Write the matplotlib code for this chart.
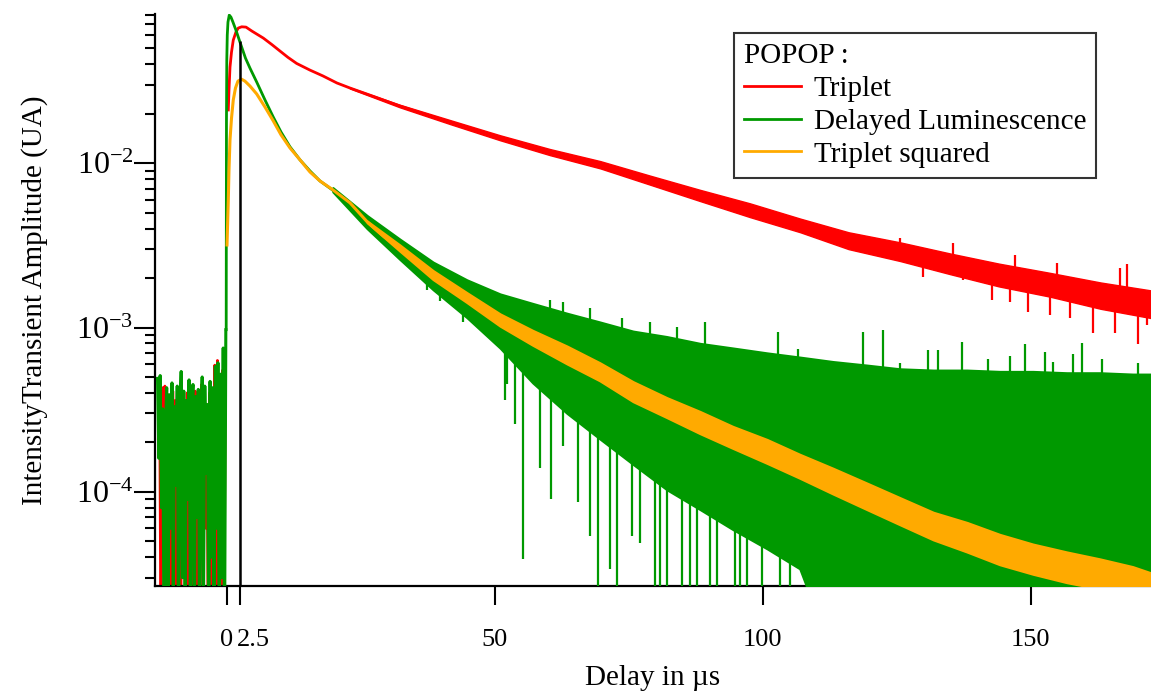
import numpy as np
import matplotlib.pyplot as plt
from matplotlib.lines import Line2D
from matplotlib.transforms import ScaledTranslation

plt.rcParams['font.family'] = ['Liberation Serif', 'DejaVu Serif']
plt.rcParams['mathtext.fontset'] = 'stix'

c_red = '#ff0000'
c_green = '#009900'
c_orange = '#ffaa00'

# --- pre-trigger noise (delay < 0) ---
pre_green = [4.9e-4, 1.6e-4, 5.1e-4, 8e-5, 3.2e-4, 1e-5, 2.4e-4, 4.3e-4, 1.2e-5, 3.9e-4,
             6e-5, 4.6e-4, 2e-5, 3.3e-4, 1.1e-4, 4.4e-4, 1e-5, 2.8e-4, 5.4e-4, 3e-5,
             4.1e-4, 1e-5, 3.6e-4, 9e-5, 4.8e-4, 1.5e-5, 3.0e-4, 4.5e-4, 1e-5, 3.8e-4,
             7e-5, 4.2e-4, 1e-5, 2.2e-4, 5.0e-4, 2e-5, 4.4e-4, 1.3e-4, 3.4e-4, 1e-5,
             4.7e-4, 4e-5, 4.3e-4, 1e-5, 5.8e-4, 6e-5, 6.1e-4, 1e-5, 5.2e-4, 3e-5,
             7.5e-4, 1e-5, 9.7e-4]
pre_green_t = np.arange(len(pre_green)) * 0.245 - 12.9
pre_red = [2.1e-4, 4.4e-4, 1e-5, 4.3e-4, 4e-5, 4.4e-4, 1e-5, 3.9e-4, 1.5e-4, 2.7e-4,
           1e-5, 4.1e-4, 3e-5, 3.6e-4, 1e-5, 2.5e-4, 4.2e-4, 1e-5, 3.7e-4, 8e-5,
           3.2e-4, 1e-5, 4.0e-4, 2e-5, 2.9e-4, 1e-5, 3.5e-4, 5e-5, 4.1e-4, 1e-5,
           3.0e-4, 1e-5, 2.4e-4, 4.5e-4, 1e-5, 3.8e-4, 6e-5, 3.3e-4, 1e-5, 4.0e-4,
           2e-5, 3.1e-4, 1e-5, 5.9e-4, 1.5e-5, 6.3e-4, 1e-5, 4.2e-4, 2e-5, 5.5e-4,
           1e-5, 6.5e-4]
pre_red_t = np.arange(len(pre_red)) * 0.245 - 12.75

# --- Triplet (red) ---
red_t = [0.30, 0.43, 0.62, 0.90, 1.23, 1.73, 2.16, 2.80, 3.60, 4.72, 6.83, 8.45, 9.94,
         11.43, 13.05, 15.53, 17.95, 20.56, 23.0, 27.7, 32.3, 37.0, 41.7, 51, 60.3,
         69.7, 79, 88.2, 97.6, 107, 116, 125.6, 135, 144, 153.6, 163, 172.5]
red_y = [0.0211, 0.0279, 0.0385, 0.0475, 0.0562, 0.0629, 0.0665, 0.0677, 0.0674, 0.0637,
         0.0578, 0.0527, 0.0482, 0.0441, 0.0405, 0.0369, 0.0340, 0.0308, 0.0287, 0.0253,
         0.0223, 0.0199, 0.0178, 0.0143, 0.0117, 0.0098, 0.0079, 0.0064, 0.0052, 0.0042,
         0.0034, 0.0029, 0.00244, 0.00209, 0.00182, 0.00156, 0.00138]
red_band_t = [23, 32.3, 41.7, 51, 60.3, 69.7, 79, 88.2, 97.6, 107, 116, 125.6, 135,
              144, 153.6, 163, 172.5]
red_hi = [0.0289, 0.0227, 0.0183, 0.0148, 0.0122, 0.0103, 0.0084, 0.0069, 0.0057,
          0.0046, 0.0038, 0.00330, 0.00282, 0.00245, 0.00215, 0.00188, 0.00168]
red_lo = [0.0285, 0.0219, 0.0173, 0.0138, 0.0112, 0.0093, 0.0074, 0.0059, 0.0047,
          0.0038, 0.0030, 0.00254, 0.00211, 0.00178, 0.00154, 0.00130, 0.00114]
red_spike_t = [125.6, 129.9, 135.5, 137.3, 142.7, 146.1, 147.0, 149.4, 153.6, 154.9,
               157.3, 161.6, 165.7, 166.6, 167.9, 170.0, 171.7]
red_spike = [3.52e-3, 2.04e-3, 3.28e-3, 1.95e-3, 1.48e-3, 1.42e-3, 2.77e-3, 1.25e-3,
             1.20e-3, 2.48e-3, 1.15e-3, 9.3e-4, 9.3e-4, 2.31e-3, 2.42e-3, 7.9e-4, 1.04e-3]

# --- Delayed Luminescence (green) ---
green_t = [-0.09, -0.04, 0.02, 0.11, 0.24, 0.48, 0.80, 1.17, 1.73, 2.35, 3.51, 4.35,
           5.60, 7.14, 8.69, 10.13, 11.8, 13.66, 15.53, 17.4, 19.8]
green_y = [9.7e-4, 0.0183, 0.0425, 0.0603, 0.0723, 0.0798, 0.0775, 0.0723, 0.0646,
           0.0562, 0.0436, 0.0379, 0.0312, 0.0243, 0.0191, 0.0155, 0.0126, 0.0105,
           0.00898, 0.0078, 0.00685]
green_band_t = [19.8, 26.2, 32.3, 38.5, 44.8, 51, 57.1, 63.5, 69.6, 75.8, 82.1, 88.3,
                94.4, 100.8, 106.9, 113.1, 119.4, 125.6, 131.8, 138.1, 144.2, 150.4,
                156.7, 162.9, 169, 172.5]
green_hi = [0.0071, 0.00480, 0.00345, 0.00250, 0.00195, 0.00160, 0.00140, 0.00122,
            0.00108, 9.5e-4, 8.8e-4, 8.0e-4, 7.5e-4, 7.0e-4, 6.6e-4, 6.2e-4, 5.9e-4,
            5.6e-4, 5.5e-4, 5.5e-4, 5.4e-4, 5.4e-4, 5.3e-4, 5.3e-4, 5.2e-4, 5.2e-4]
green_lo = [0.0067, 0.00400, 0.00260, 0.00170, 0.00115, 7.5e-4, 4.6e-4, 3.0e-4,
            2.1e-4, 1.47e-4, 1.03e-4, 7.8e-5, 5.9e-5, 4.5e-5, 3.4e-5, 1e-5, 1e-5,
            1e-5, 1e-5, 1e-5, 1e-5, 1e-5, 1e-5, 1e-5, 1e-5, 1e-5]
green_peak_t = [60.3, 62.7, 67.8, 73.7, 78.9, 84.0, 89.2, 102.8, 106.5, 118.7, 122.4,
                125.6, 130.8, 132.7, 137.2, 142.0, 146.1, 148.9, 152.6, 154.1, 157.8,
                159.5, 163.2, 170.0]
green_peak = [1.48e-3, 1.42e-3, 1.32e-3, 1.15e-3, 1.08e-3, 1.01e-3, 1.08e-3, 9.4e-4,
              7.4e-4, 9.4e-4, 9.7e-4, 6.1e-4, 7.3e-4, 7.3e-4, 8.2e-4, 6.4e-4, 6.7e-4,
              7.9e-4, 7.1e-4, 6.2e-4, 6.9e-4, 8.1e-4, 6.4e-4, 6.1e-4]
green_dip_t = [37.4, 39.8, 44.1, 51.9, 52.3, 53.8, 55.3, 58.4, 60.5, 62.7, 65.5, 67.8,
               69.3, 71.5, 72.8, 75.6, 77.1, 79.9, 80.8, 82.1, 84.9, 86.4, 87.7, 90.1,
               91.4, 94.8, 95.7, 97.0, 99.8, 103.2, 105.1, 108.8]
green_dip = [1.7e-3, 1.45e-3, 1.08e-3, 3.6e-4, 4.5e-4, 2.6e-4, 3.9e-5, 1.4e-4, 9e-5,
             1.9e-4, 8.7e-5, 5.4e-5, 1e-5, 3.4e-5, 1e-5, 5.4e-5, 4.9e-5, 1e-5, 1e-5,
             1e-5, 1e-5, 1e-5, 1e-5, 1e-5, 1e-5, 1e-5, 1e-5, 1e-5, 1e-5, 1e-5, 1e-5, 1e-5]

# --- Triplet squared (orange) ---
orange_t = [0.06, 0.17, 0.30, 0.43, 0.62, 0.90, 1.23, 1.64, 2.10, 2.76, 3.41, 4.35,
            5.60, 7.14, 8.69, 10.13, 11.8, 13.66, 15.53, 17.4, 19.8, 23.0, 26.2, 29.2,
            32.3, 38.5, 44.8, 51, 57.1, 63.5, 69.6, 75.8, 82.1, 88.3, 94.4, 100.8,
            106.9, 113.1, 119.4, 125.6, 131.8, 138.1, 144.2, 150.4, 156.7, 162.9, 169,
            172.5]
orange_y = [3.18e-3, 4.22e-3, 5.98e-3, 9.1e-3, 0.0139, 0.0188, 0.0243, 0.0287, 0.0316,
            0.0325, 0.0316, 0.0295, 0.0264, 0.0220, 0.0181, 0.0149, 0.0124, 0.0105,
            0.00885, 0.0078, 0.00689, 0.00574, 0.0044, 0.00361, 0.00305, 0.00209,
            0.00152, 0.00111, 8.67e-4, 6.83e-4, 5.38e-4, 4.07e-4, 3.25e-4, 2.64e-4,
            2.14e-4, 1.76e-4, 1.43e-4, 1.16e-4, 9.4e-5, 7.6e-5, 6.2e-5, 5.3e-5,
            4.47e-5, 3.89e-5, 3.47e-5, 3.16e-5, 2.85e-5, 2.6e-5]
orange_band_t = [26.2, 32.3, 38.5, 44.8, 51, 57.1, 63.5, 69.6, 75.8, 82.1, 88.3, 94.4,
                 100.8, 106.9, 113.1, 119.4, 125.6, 131.8, 138.1, 144.2, 150.4, 156.7,
                 162.9, 169, 172.5]
orange_hi = [0.00445, 0.00318, 0.00222, 0.00163, 0.00121, 9.6e-4, 7.7e-4, 6.1e-4,
             4.68e-4, 3.74e-4, 3.08e-4, 2.5e-4, 2.08e-4, 1.69e-4, 1.39e-4, 1.13e-4,
             9.2e-5, 7.5e-5, 6.5e-5, 5.5e-5, 4.8e-5, 4.3e-5, 3.9e-5, 3.5e-5, 3.2e-5]
orange_lo = [0.00435, 0.00292, 0.00196, 0.00142, 0.00102, 7.8e-4, 6.0e-4, 4.74e-4,
             3.54e-4, 2.83e-4, 2.26e-4, 1.84e-4, 1.49e-4, 1.21e-4, 9.7e-5, 7.8e-5,
             6.3e-5, 5.1e-5, 4.3e-5, 3.6e-5, 3.15e-5, 2.8e-5, 2.56e-5, 2.3e-5, 2.1e-5]

marker_t = 2.5
marker_top = 0.0556

xticks = [0, 2.5, 50, 100, 150]
xticklabels = ['0', '2.5', '50', '100', '150']
series_names = ['Triplet', 'Delayed Luminescence', 'Triplet squared']

fig = plt.figure(figsize=(11.51, 6.91), dpi=100)
ax = fig.add_axes([155 / 1151, 1 - 586 / 691, 996 / 1151, 572 / 691])
lw = 1.6

# red
ax.plot(pre_red_t, pre_red, color=c_red, lw=2.0, zorder=2)
ax.plot(red_t, red_y, color=c_red, lw=lw + 0.4, zorder=2)
ax.fill_between(red_band_t, red_lo, red_hi, color=c_red, lw=1.0, zorder=2)
lr = np.interp(red_spike_t, red_band_t, np.log10(red_y[-len(red_band_t):]))
ax.vlines(red_spike_t, 10 ** lr, red_spike, color=c_red, lw=lw, zorder=2)

# green
ax.plot(pre_green_t, pre_green, color=c_green, lw=2.2, zorder=3)
ax.plot(green_t, green_y, color=c_green, lw=lw + 0.4, zorder=3)
ax.fill_between(green_band_t, green_lo, green_hi, color=c_green, lw=lw, zorder=3)
lg_hi = np.interp(green_peak_t, green_band_t, np.log10(green_hi))
ax.vlines(green_peak_t, 10 ** lg_hi, green_peak, color=c_green, lw=lw, zorder=3)
lg_lo = np.interp(green_dip_t, green_band_t, np.log10(green_lo))
ax.vlines(green_dip_t, green_dip, 10 ** lg_lo, color=c_green, lw=lw, zorder=3)

# orange
ax.plot(orange_t, orange_y, color=c_orange, lw=lw + 0.6, zorder=4)
ax.fill_between(orange_band_t, orange_lo, orange_hi, color=c_orange, lw=lw, zorder=4)

# cursor line
ax.vlines(marker_t, 1e-6, marker_top, color='black', lw=1.8, zorder=5)

ax.set_yscale('log')
ax.set_xlim(-13.37, 172.4)
ax.set_ylim(2.67e-5, 0.081)

for s in ['top', 'right']:
    ax.spines[s].set_visible(False)
for s in ['left', 'bottom']:
    ax.spines[s].set_linewidth(1.6)

ax.set_xticks(xticks)
ax.set_xticklabels(xticklabels)
ax.tick_params(axis='x', which='major', direction='out', length=14, width=1.5,
               pad=17, labelsize=19)
ax.tick_params(axis='y', which='major', direction='out', length=15, width=1.5,
               pad=0.5, labelsize=23)
ax.tick_params(axis='y', which='minor', direction='out', length=7.5, width=1.5)
ax.tick_params(axis='x', which='minor', bottom=False)

lab = ax.get_xticklabels()[1]
lab.set_transform(lab.get_transform() + ScaledTranslation(0.13, 0, fig.dpi_scale_trans))

ax.set_xlabel('Delay in µs', fontsize=21, labelpad=10)
ax.set_ylabel('IntensityTransient Amplitude (UA)', fontsize=21, labelpad=20)

handles = [Line2D([], [], color=c, lw=2) for c in (c_red, c_green, c_orange)]
leg = ax.legend(handles, series_names, title='POPOP :', loc='upper left',
                bbox_to_anchor=(734 / 1151, 1 - 33 / 691), bbox_transform=fig.transFigure,
                borderaxespad=0, fontsize=21, title_fontsize=21, frameon=True,
                fancybox=False, edgecolor='black', handlelength=1.93, handletextpad=0.45,
                labelspacing=0.22, borderpad=0.35)
leg._legend_box.align = 'left'
leg.get_frame().set_linewidth(1.5)
leg.set_zorder(10)

fig.savefig('out.png', dpi=100)
